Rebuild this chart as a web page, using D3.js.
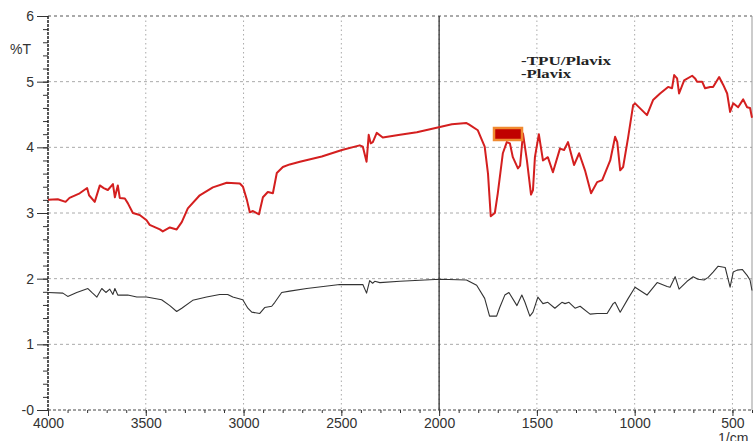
<!DOCTYPE html>
<html>
<head>
<meta charset="utf-8">
<script src="https://cdn.jsdelivr.net/npm/d3@7"></script>
<style>
  body { margin: 0; background: #fff; }
  svg { display: block; }
  .tick text { font-family: "Liberation Sans", Arial, sans-serif; fill: #333; }
</style>
</head>
<body>
<svg id="chart" width="753" height="441"></svg>
<script>
// TPU/Plavix spectrum (red)
const tpuWavenumber = [4000, 3950, 3910, 3890, 3838, 3800, 3790, 3761, 3735, 3715, 3694, 3668, 3658, 3643, 3633, 3607, 3592, 3566, 3531, 3496, 3480, 3428, 3413, 3377, 3342, 3316, 3285, 3224, 3157, 3086, 3019, 3003, 2983, 2968, 2952, 2921, 2901, 2876, 2850, 2830, 2799, 2764, 2712, 2600, 2497, 2406, 2390, 2371, 2360, 2350, 2339, 2319, 2288, 2200, 2114, 1996, 1935, 1860, 1848, 1802, 1767, 1750, 1736, 1715, 1700, 1674, 1654, 1638, 1623, 1597, 1586, 1571, 1551, 1530, 1520, 1510, 1490, 1469, 1444, 1418, 1382, 1361, 1341, 1310, 1284, 1254, 1223, 1192, 1166, 1125, 1100, 1089, 1074, 1059, 1033, 1008, 998, 937, 906, 870, 829, 809, 798, 783, 773, 747, 706, 691, 681, 655, 640, 614, 599, 568, 547, 527, 512, 496, 471, 445, 425, 410, 400];
const tpuT = [3.20, 3.21, 3.17, 3.23, 3.30, 3.38, 3.27, 3.17, 3.42, 3.38, 3.35, 3.44, 3.24, 3.42, 3.23, 3.22, 3.15, 3.00, 2.97, 2.89, 2.82, 2.75, 2.72, 2.78, 2.75, 2.86, 3.07, 3.27, 3.39, 3.46, 3.45, 3.40, 3.20, 3.01, 3.03, 2.98, 3.24, 3.32, 3.30, 3.61, 3.70, 3.74, 3.78, 3.86, 3.96, 4.03, 4.01, 3.78, 4.19, 4.06, 4.08, 4.22, 4.15, 4.19, 4.23, 4.31, 4.35, 4.37, 4.35, 4.26, 4.01, 3.60, 2.95, 3.00, 3.30, 3.91, 4.08, 4.06, 3.85, 3.68, 3.72, 4.21, 3.80, 3.28, 3.35, 3.85, 4.20, 3.80, 3.85, 3.62, 3.98, 3.96, 4.08, 3.73, 3.91, 3.65, 3.30, 3.47, 3.50, 3.80, 4.16, 4.08, 3.65, 3.70, 4.16, 4.64, 4.67, 4.49, 4.72, 4.82, 4.92, 4.90, 5.10, 5.05, 4.82, 5.02, 5.09, 5.05, 5.00, 5.00, 4.90, 4.92, 4.92, 5.07, 4.95, 4.82, 4.54, 4.67, 4.61, 4.73, 4.61, 4.60, 4.45];

// Plavix spectrum (black)
const plavixWavenumber = [4000, 3924, 3899, 3853, 3796, 3776, 3750, 3725, 3704, 3684, 3668, 3658, 3643, 3592, 3546, 3496, 3419, 3377, 3342, 3316, 3260, 3189, 3122, 3081, 3055, 3004, 2978, 2958, 2917, 2892, 2856, 2840, 2805, 2764, 2677, 2508, 2390, 2371, 2355, 2340, 2329, 2303, 2200, 1996, 1860, 1808, 1767, 1742, 1706, 1690, 1664, 1643, 1602, 1577, 1561, 1536, 1520, 1495, 1469, 1444, 1408, 1372, 1356, 1336, 1305, 1279, 1228, 1192, 1141, 1110, 1100, 1074, 1033, 998, 937, 885, 834, 819, 793, 773, 732, 701, 676, 645, 624, 599, 573, 537, 527, 512, 496, 476, 450, 425, 410, 400];
const plavixT = [1.79, 1.78, 1.73, 1.79, 1.85, 1.79, 1.72, 1.85, 1.79, 1.84, 1.76, 1.85, 1.75, 1.75, 1.72, 1.72, 1.68, 1.59, 1.50, 1.55, 1.67, 1.72, 1.76, 1.76, 1.72, 1.68, 1.55, 1.49, 1.47, 1.56, 1.58, 1.64, 1.79, 1.81, 1.85, 1.91, 1.91, 1.78, 1.97, 1.93, 1.96, 1.94, 1.96, 1.99, 1.98, 1.90, 1.70, 1.43, 1.43, 1.56, 1.75, 1.79, 1.59, 1.75, 1.64, 1.43, 1.49, 1.72, 1.62, 1.64, 1.55, 1.64, 1.62, 1.64, 1.55, 1.58, 1.46, 1.47, 1.47, 1.62, 1.64, 1.49, 1.70, 1.87, 1.75, 1.94, 1.88, 1.87, 2.03, 1.84, 1.96, 2.03, 1.99, 1.98, 2.02, 2.10, 2.19, 2.17, 2.05, 1.87, 2.10, 2.13, 2.14, 2.05, 1.98, 1.82];

const xTicks = [4000, 3500, 3000, 2500, 2000, 1500, 1000, 500];
const yTicks = [0, 1, 2, 3, 4, 5, 6];
const yTickLabels = ["-0", "1", "2", "3", "4", "5", "6"];
const legendLabels = ["-TPU/Plavix", "-Plavix"];
const cursorWavenumber = 2000;

const svg = d3.select("#chart");
const plotLeft = 48, plotRight = 752, plotTop = 16, plotBottom = 410;

const x = d3.scaleLinear().domain([4000, 400]).range([plotLeft, plotRight]);
const y = d3.scaleLinear().domain([0, 6]).range([plotBottom, plotTop]);

// 网格
svg.append("g")
    .selectAll("line")
    .data(yTicks.slice(1))
    .enter().append("line")
    .attr("x1", plotLeft).attr("x2", plotRight)
    .attr("y1", d => y(d)).attr("y2", d => y(d))
    .attr("stroke", d => d === 6 ? "#555" : "#aaa")
    .attr("stroke-width", 1)
    .attr("stroke-dasharray", "3,3");

svg.append("g")
    .selectAll("line")
    .data(xTicks.slice(1))
    .enter().append("line")
    .attr("x1", d => x(d)).attr("x2", d => x(d))
    .attr("y1", plotTop).attr("y2", plotBottom)
    .attr("stroke", "#aaa")
    .attr("stroke-width", 1)
    .attr("stroke-dasharray", "1.5,3");

// 右边框
svg.append("line")
    .attr("x1", plotRight).attr("x2", plotRight)
    .attr("y1", plotTop).attr("y2", plotBottom)
    .attr("stroke", "#999");

// 坐标轴
const yMinor = d3.range(0, 6.001, 0.2);
svg.append("g")
    .attr("transform", `translate(${plotLeft},0)`)
    .call(d3.axisLeft(y).tickValues(yMinor).tickSize(5).tickFormat(""))
    .call(g => g.select(".domain").remove())
    .selectAll("line").attr("stroke", "#333");

svg.append("g")
    .attr("transform", `translate(${plotLeft},0)`)
    .call(d3.axisLeft(y).tickValues(yTicks).tickSize(11).tickPadding(3)
        .tickFormat((d, i) => yTickLabels[i]))
    .call(g => g.select(".domain").remove())
    .call(g => g.selectAll("line").attr("stroke", "#333"))
    .call(g => g.selectAll("text").attr("font-size", 14));

svg.append("line")
    .attr("x1", plotLeft).attr("x2", plotLeft)
    .attr("y1", plotTop).attr("y2", plotBottom)
    .attr("stroke", "#222")
    .attr("stroke-width", 1.5)
    .attr("stroke-dasharray", "3,1");

const xMinor = d3.range(4000, 399, -100);
svg.append("g")
    .attr("transform", `translate(0,${plotBottom})`)
    .call(d3.axisBottom(x).tickValues(xMinor).tickSize(3).tickFormat(""))
    .call(g => g.select(".domain").remove())
    .selectAll("line").attr("stroke", "#333");

svg.append("g")
    .attr("transform", `translate(0,${plotBottom})`)
    .call(d3.axisBottom(x).tickValues(xTicks).tickSize(6).tickPadding(2).tickFormat(d3.format("d")))
    .call(g => g.select(".domain").remove())
    .call(g => g.selectAll("line").attr("stroke", "#333"))
    .call(g => g.selectAll("text").attr("font-size", 14));

svg.append("line")
    .attr("x1", plotLeft).attr("x2", plotRight)
    .attr("y1", plotBottom).attr("y2", plotBottom)
    .attr("stroke", "#444")
    .attr("stroke-dasharray", "3,2");

svg.append("text")
    .attr("x", 10).attr("y", 54)
    .attr("font-family", "Liberation Sans, Arial, sans-serif")
    .attr("font-size", 14)
    .attr("fill", "#333")
    .text("%T");

svg.append("text")
    .attr("x", 718).attr("y", 443)
    .attr("font-family", "Liberation Sans, Arial, sans-serif")
    .attr("font-size", 14)
    .attr("fill", "#333")
    .text("1/cm");

// 光标线
svg.append("line")
    .attr("x1", x(cursorWavenumber)).attr("x2", x(cursorWavenumber))
    .attr("y1", plotTop).attr("y2", plotBottom)
    .attr("stroke", "#222")
    .attr("stroke-width", 1.2);

// 曲线
svg.append("clipPath").attr("id", "clip")
    .append("rect").attr("x", plotLeft).attr("y", plotTop)
    .attr("width", plotRight - plotLeft + 1).attr("height", plotBottom - plotTop);

const line = d3.line().x(d => x(d[0])).y(d => y(d[1]));

svg.append("path")
    .datum(d3.zip(plavixWavenumber, plavixT))
    .attr("clip-path", "url(#clip)")
    .attr("fill", "none")
    .attr("stroke", "#333")
    .attr("stroke-width", 1.1)
    .attr("stroke-linejoin", "round")
    .attr("d", line);

svg.append("path")
    .datum(d3.zip(tpuWavenumber, tpuT))
    .attr("clip-path", "url(#clip)")
    .attr("fill", "none")
    .attr("stroke", "#d41f1f")
    .attr("stroke-width", 2)
    .attr("stroke-linejoin", "round")
    .attr("d", line);

// 图例
const legendWidths = [90, 50];
svg.append("g")
    .selectAll("text")
    .data(legendLabels)
    .enter().append("text")
    .attr("x", 521)
    .attr("y", (d, i) => 65 + i * 13)
    .attr("font-family", "Liberation Serif, Times New Roman, serif")
    .attr("font-weight", "bold")
    .attr("font-size", 12.5)
    .attr("textLength", (d, i) => legendWidths[i])
    .attr("lengthAdjust", "spacingAndGlyphs")
    .attr("fill", "#222")
    .text(d => d);

svg.append("rect")
    .attr("x", 494).attr("y", 128)
    .attr("width", 28).attr("height", 12)
    .attr("fill", "#c00000")
    .attr("stroke", "#f08a30")
    .attr("stroke-width", 2.5);
</script>
</body>
</html>
